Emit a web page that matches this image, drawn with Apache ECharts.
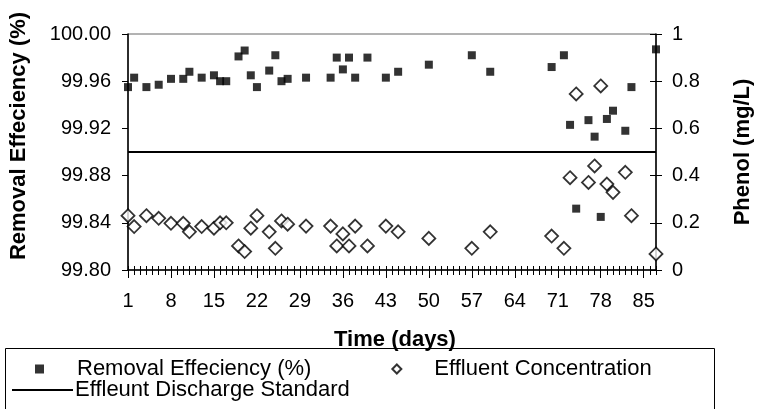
<!DOCTYPE html>
<html lang="en">
<head>
    <meta charset="UTF-8">
    <title>Removal Effeciency</title>
    <script src="https://cdn.jsdelivr.net/npm/echarts@6/dist/echarts.min.js"></script>
    <style>
        html, body { margin: 0; padding: 0; background: #fff; }
        #box { width: 762px; height: 409px; }
    </style>
</head>
<body>
<div id="box"></div>
<script>
    // days sampled
    var days = [1, 2, 4, 6, 8, 10, 11, 13, 15, 16, 17, 19, 20, 21, 22, 24, 25, 26, 27, 30,
        34, 35, 36, 37, 38, 40, 43, 45, 50, 57, 60, 70, 72, 73, 74, 76, 77, 78, 79, 80, 82, 83, 87];
    // removal efficiency (%)
    var removal = [99.955, 99.963, 99.955, 99.957, 99.962, 99.962, 99.968, 99.963, 99.965, 99.960,
        99.960, 99.981, 99.986, 99.965, 99.955, 99.969, 99.982, 99.960, 99.962, 99.963,
        99.963, 99.980, 99.970, 99.980, 99.963, 99.980, 99.963, 99.968, 99.974, 99.982, 99.968,
        99.972, 99.982, 99.923, 99.852, 99.927, 99.913, 99.845, 99.928, 99.935, 99.918, 99.955, 99.987];
    // effluent phenol (mg/L)
    var phenol = [0.230, 0.184, 0.230, 0.219, 0.198, 0.198, 0.162, 0.184, 0.177, 0.200,
        0.200, 0.102, 0.078, 0.177, 0.230, 0.162, 0.092, 0.208, 0.194, 0.186,
        0.186, 0.102, 0.153, 0.102, 0.186, 0.102, 0.186, 0.162, 0.134, 0.092, 0.162,
        0.144, 0.092, 0.391, 0.746, 0.371, 0.441, 0.780, 0.364, 0.329, 0.414, 0.230, 0.068];
    var standard = 0.5;
    var dayMin = 1, dayMax = 87;
    var labelDays = [1, 8, 15, 22, 29, 36, 43, 50, 57, 64, 71, 78, 85];

    var allDays = [];
    for (var d = dayMin; d <= dayMax; d++) allDays.push(d);

    var font = 'Liberation Sans, Arial, sans-serif';
    var removalData = days.map(function (d, i) { return [d, removal[i]]; });
    var phenolData = days.map(function (d, i) { return [d, phenol[i]]; });

    var mychart = echarts.init(document.getElementById('box'));
    var option = {
        animation: false,
        textStyle: { fontFamily: font, color: '#000' },
        grid: {
            left: 126, right: 78, top: 34, bottom: 139,
            show: true, borderColor: '#666', borderWidth: 1, backgroundColor: 'transparent'
        },
        graphic: [{
            type: 'rect', left: 5, top: 348, z: -1,
            shape: { width: 709, height: 80 },
            style: { fill: '#fff', stroke: '#000', lineWidth: 1 }
        }],
        legend: [{
            data: ['Removal Effeciency (%)', 'Effluent Concentration'],
            left: 35, top: 358, itemWidth: 9, itemHeight: 9, itemGap: 80,
            padding: 0,
            textStyle: { fontSize: 22, color: '#000', fontFamily: font, padding: [0, 0, 0, 28] }
        }, {
            data: [{ name: 'Effleunt Discharge Standard', icon: 'rect' }],
            left: 12, top: 379, itemWidth: 61, itemHeight: 2,
            padding: 0,
            textStyle: { fontSize: 22, color: '#000', fontFamily: font, padding: [0, 0, 0, -3] }
        }],
        xAxis: [{
            type: 'value', min: dayMin, max: dayMax, position: 'bottom',
            name: 'Time (days)', nameLocation: 'middle', nameGap: 59,
            nameTextStyle: { fontSize: 22, fontWeight: 'bold', color: '#000', fontFamily: font, padding: [0, 0, 0, 6] },
            axisLine: { lineStyle: { color: '#000', width: 1.5 } },
            axisTick: { show: true, length: 5, customValues: allDays, lineStyle: { color: '#000' } },
            axisLabel: { customValues: labelDays, fontSize: 20, color: '#000', margin: 21, fontFamily: font },
            splitLine: { show: false }
        }, {
            type: 'value', min: dayMin, max: dayMax, position: 'bottom',
            axisLine: { show: false },
            axisTick: { show: true, inside: true, length: 4, customValues: allDays, lineStyle: { color: '#000' } },
            axisLabel: { show: false },
            splitLine: { show: false }
        }, {
            type: 'value', min: dayMin, max: dayMax, position: 'bottom',
            axisLine: { show: false },
            axisTick: { show: true, length: 8, customValues: labelDays, lineStyle: { color: '#000' } },
            axisLabel: { show: false },
            splitLine: { show: false }
        }],
        yAxis: [{
            type: 'value', min: 99.80, max: 100.00, interval: 0.04, position: 'left',
            name: 'Removal Effeciency (%)', nameLocation: 'middle', nameGap: 98, nameRotate: 90,
            nameTextStyle: { fontSize: 22, fontWeight: 'bold', color: '#000', fontFamily: font, padding: [0, 0, 0, 32] },
            axisLine: { show: true, lineStyle: { color: '#000', width: 1.5 } },
            axisTick: { show: true, length: 6, lineStyle: { color: '#000' } },
            axisLabel: {
                fontSize: 20, color: '#000', margin: 17, fontFamily: font,
                formatter: function (v) { return v.toFixed(2); }
            },
            splitLine: { show: false }
        }, {
            type: 'value', min: 0, max: 1, interval: 0.2, position: 'right',
            name: 'Phenol (mg/L)', nameLocation: 'middle', nameGap: 60, nameRotate: 90,
            nameTextStyle: { fontSize: 22, fontWeight: 'bold', color: '#000', fontFamily: font, padding: [16, 0, 0, 0] },
            axisLine: { show: true, lineStyle: { color: '#000', width: 1.5 } },
            axisTick: { show: true, length: 6, lineStyle: { color: '#000' } },
            axisLabel: { fontSize: 20, color: '#000', margin: 16, fontFamily: font },
            splitLine: { show: false }
        }, {
            type: 'value', min: 0, max: 1, interval: 0.2, position: 'right',
            axisLine: { show: false },
            axisTick: { show: true, inside: true, length: 6, lineStyle: { color: '#000' } },
            axisLabel: { show: false },
            splitLine: { show: false }
        }],
        series: [{
            name: 'Removal Effeciency (%)',
            type: 'scatter', xAxisIndex: 0, yAxisIndex: 0,
            symbol: 'rect', symbolSize: 8,
            itemStyle: { color: '#000' },
            data: removalData
        }, {
            name: 'Effluent Concentration',
            type: 'scatter', xAxisIndex: 0, yAxisIndex: 1,
            symbol: 'diamond', symbolSize: 13,
            itemStyle: { color: '#fff', borderColor: '#000', borderWidth: 1.8 },
            data: phenolData
        }, {
            name: 'Effleunt Discharge Standard',
            type: 'line', xAxisIndex: 0, yAxisIndex: 1,
            symbol: 'none', z: 1,
            itemStyle: { color: '#000' },
            lineStyle: { color: '#000', width: 2 },
            data: [[dayMin, standard], [dayMax, standard]]
        }]
    };
    mychart.setOption(option);
</script>
</body>
</html>
